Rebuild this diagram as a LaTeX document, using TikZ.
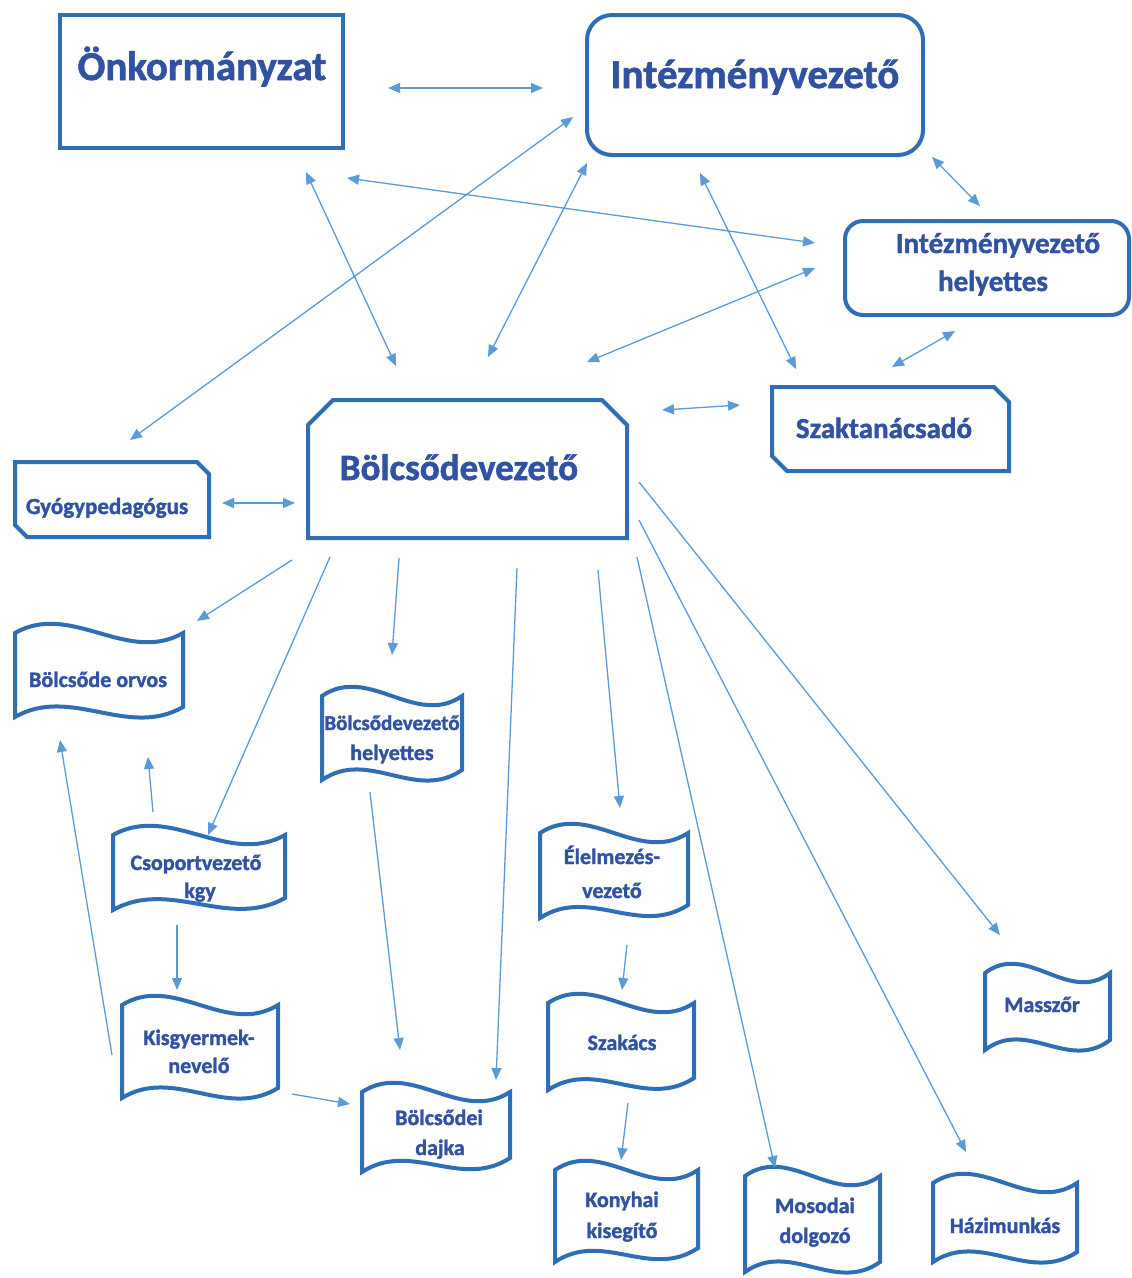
\documentclass[tikz,border=0pt]{standalone}
\usepackage{fontspec}
\setmainfont{Carlito}[BoldFeatures={FakeBold=1.5}]
\usetikzlibrary{arrows.meta}
\definecolor{boxblue}{HTML}{2E6EB4}
\definecolor{arrblue}{HTML}{5B9BD5}
\definecolor{txtblue}{HTML}{3152A3}
\newcommand\wavebox[5]{%
  \draw[boxline] (#1,#3) .. controls ({#1+(#2-#1)/3},#3-32) and ({#1+2*(#2-#1)/3},#3+32) .. (#2,#3)
    -- (#2,#5) .. controls ({#1+2*(#2-#1)/3},#5+32) and ({#1+(#2-#1)/3},#4-32) .. (#1,#4) -- cycle;}
\newcommand\fs[1]{\fontsize{#1}{#1}\selectfont\bfseries}
\begin{document}
\begin{tikzpicture}[x=1pt,y=-1pt,
  boxline/.style={draw=boxblue,line width=4pt},
  lbl/.style={text=txtblue,inner sep=0pt,anchor=base},
  big/.style={lbl,font=\fs{41}},
  mid/.style={lbl,font=\fs{29}},
  sml/.style={lbl,font=\fs{22}},
  arr/.style={draw=arrblue,line width=1.3pt,-{Triangle[length=12pt,width=10pt]}},
  darr/.style={draw=arrblue,line width=1.3pt,{Triangle[length=12pt,width=10pt]}-{Triangle[length=12pt,width=10pt]}}]
\useasboundingbox (0,0) rectangle (1132,1278);
\fill[white] (0,0) rectangle (1132,1278);
% boxes
\draw[boxline] (60,15) rectangle (343,148);
\draw[boxline,rounded corners=25pt] (587,15) rectangle (923,155);
\draw[boxline,rounded corners=18pt] (845,221) rectangle (1129,315);
\draw[boxline] (333,400) -- (602,400) -- (627,425) -- (627,538) -- (308,538) -- (308,425) -- cycle;
\draw[boxline] (15,462) -- (197,462) -- (209,474) -- (209,537) -- (27,537) -- (15,525) -- cycle;
\draw[boxline] (772,387) -- (994,387) -- (1009,402) -- (1009,471) -- (787,471) -- (772,456) -- cycle;
% waves
\wavebox{15}{183}{633}{717}{707}
\wavebox{322}{462}{696}{780}{770}
\wavebox{113}{285}{835}{910}{898}
\wavebox{540}{688}{833}{918}{905}
\wavebox{122}{278}{1005}{1098}{1088}
\wavebox{548}{694}{1003}{1090}{1078}
\wavebox{362}{510}{1092}{1172}{1158}
\wavebox{985}{1110}{973}{1050}{1040}
\wavebox{555}{698}{1170}{1262}{1248}
\wavebox{745}{880}{1176}{1272}{1262}
\wavebox{933}{1077}{1183}{1262}{1252}
% labels
\node[big] (onk) at (202,80) {Önkormányzat};
\node[big] (int) at (755,88) {Intézményvezető};
\node[mid] (ih) at (998,253) {Intézményvezető};
\node[mid] (ih2) at (993,291) {helyettes};
\node[lbl,font=\fs{37}] (bol) at (459,480) {Bölcsődevezető};
\node[lbl,font=\fs{23}] (gyo) at (107,514) {Gyógypedagógus};
\node[mid] (szak) at (884,438) {Szaktanácsadó};
\node[sml] (orv) at (98,687) {Bölcsőde orvos};
\node[lbl,font=\fs{21}] (bvh) at (392,730) {Bölcsődevezető};
\node[sml] (bvh2) at (392,760) {helyettes};
\node[sml] (csop) at (196,870) {Csoportvezető};
\node[sml] (csop2) at (200,898) {kgy};
\node[sml] (elel) at (612,864) {Élelmezés-};
\node[sml] (elel2) at (612,898) {vezető};
\node[sml] (kisg) at (199,1045) {Kisgyermek-};
\node[sml] (kisg2) at (199,1073) {nevelő};
\node[sml] (szakacs) at (622,1050) {Szakács};
\node[sml] (dajka) at (439,1125) {Bölcsődei};
\node[sml] (dajka2) at (440,1155) {dajka};
\node[sml] (massz) at (1042,1012) {Masszőr};
\node[sml] (kony) at (622,1207) {Konyhai};
\node[sml] (kony2) at (622,1238) {kisegítő};
\node[sml] (mos) at (815,1213) {Mosodai};
\node[sml] (mos2) at (815,1243) {dolgozó};
\node[sml] (hazi) at (1005,1233) {Házimunkás};
% connector end points
\coordinate (a1) at (388,88);   \coordinate (a2) at (543,88);
\coordinate (b1) at (573,117);  \coordinate (b2) at (130,440);
\coordinate (c1) at (347,178);  \coordinate (c2) at (815,243);
\coordinate (d1) at (306,172);  \coordinate (d2) at (396,366);
\coordinate (e1) at (587,163);  \coordinate (e2) at (488,357);
\coordinate (f1) at (700,173);  \coordinate (f2) at (796,369);
\coordinate (g1) at (932,157);  \coordinate (g2) at (980,206);
\coordinate (h1) at (815,268);  \coordinate (h2) at (587,362);
\coordinate (i1) at (955,331);  \coordinate (i2) at (892,367);
\coordinate (j1) at (662,410);  \coordinate (j2) at (740,405);
\coordinate (k1) at (222,503);  \coordinate (k2) at (295,503);
\coordinate (l1) at (292,560);  \coordinate (l2) at (197,621);
\coordinate (m1) at (330,557);  \coordinate (m2) at (208,835);
\coordinate (n1) at (399,558);  \coordinate (n2) at (392,655);
\coordinate (o1) at (517,568);  \coordinate (o2) at (496,1080);
\coordinate (p1) at (598,570);  \coordinate (p2) at (620,808);
\coordinate (q1) at (637,557);  \coordinate (q2) at (775,1168);
\coordinate (r1) at (639,520);  \coordinate (r2) at (966,1152);
\coordinate (s1) at (639,482);  \coordinate (s2) at (1000,935);
\coordinate (t1) at (153,812);  \coordinate (t2) at (148,757);
\coordinate (u1) at (177,925);  \coordinate (u2) at (177,990);
\coordinate (v1) at (112,1055); \coordinate (v2) at (60,740);
\coordinate (w1) at (292,1094); \coordinate (w2) at (350,1104);
\coordinate (x1) at (370,792);  \coordinate (x2) at (400,1050);
\coordinate (y1) at (627,945);  \coordinate (y2) at (622,990);
\coordinate (z1) at (628,1103); \coordinate (z2) at (621,1160);
\foreach \p in {a,b,c,d,e,f,g,h,i,j,k} \draw[darr] (\p1) -- (\p2);
\foreach \p in {l,m,n,o,p,q,r,s,t,u,v,w,x,y,z} \draw[arr] (\p1) -- (\p2);
\end{tikzpicture}
\end{document}
